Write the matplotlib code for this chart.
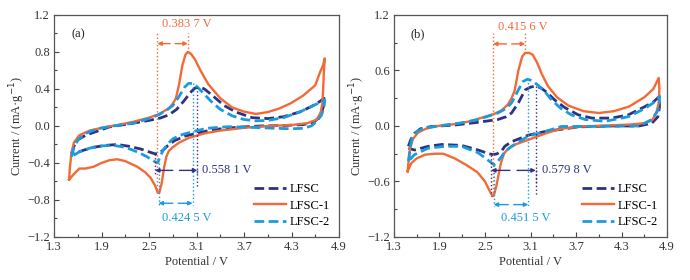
import numpy as np
import matplotlib.pyplot as plt

plt.rcParams['font.family'] = ['Liberation Serif', 'DejaVu Serif']
plt.rcParams['font.size'] = 9

# ---- panel (a) data ----
a_lfsc_v = [1.52, 1.55, 1.60, 1.70, 1.80, 2.00, 2.30, 2.50, 2.64, 2.75, 2.85, 2.95, 3.02, 3.08,
            3.14, 3.20, 3.30, 3.45, 3.60, 3.80, 4.00, 4.20, 4.40, 4.55, 4.65, 4.71,
            4.70, 4.66, 4.58, 4.45, 4.20, 3.90, 3.60, 3.30, 3.10, 2.95, 2.82, 2.74, 2.68, 2.62,
            2.57, 2.50, 2.40, 2.25, 2.10, 1.95, 1.80, 1.68, 1.58, 1.52]
a_lfsc_i = [-0.30, -0.22, -0.15, -0.10, -0.07, -0.01, 0.03, 0.06, 0.085, 0.12, 0.18, 0.28, 0.36, 0.41,
            0.42, 0.40, 0.33, 0.22, 0.15, 0.09, 0.08, 0.10, 0.15, 0.21, 0.26, 0.30,
            0.20, 0.10, 0.04, 0.015, 0.005, 0.0, -0.015, -0.04, -0.08, -0.11, -0.16, -0.21, -0.26, -0.30,
            -0.30, -0.28, -0.25, -0.22, -0.20, -0.21, -0.23, -0.26, -0.29, -0.30]

a_lfsc1_v = [1.49, 1.50, 1.52, 1.55, 1.62, 1.75, 1.90, 2.10, 2.30, 2.50, 2.62, 2.75, 2.80, 2.84,
             2.88, 2.92, 2.96, 2.99, 3.03, 3.08, 3.15, 3.25, 3.40, 3.55, 3.70, 3.85, 4.00, 4.15,
             4.30, 4.45, 4.60, 4.66, 4.70, 4.72,
             4.71, 4.70, 4.69, 4.67, 4.62, 4.50, 4.30, 4.00, 3.70, 3.40, 3.20, 3.00, 2.88, 2.80,
             2.75, 2.72, 2.69, 2.66, 2.63, 2.61, 2.58, 2.52, 2.45, 2.35, 2.20, 2.10, 2.00, 1.90,
             1.80, 1.70, 1.62, 1.55, 1.49]
a_lfsc1_i = [-0.58, -0.45, -0.30, -0.18, -0.10, -0.05, -0.02, 0.01, 0.045, 0.09, 0.125, 0.19, 0.24, 0.30,
             0.45, 0.65, 0.77, 0.80, 0.78, 0.72, 0.60, 0.45, 0.30, 0.20, 0.155, 0.13, 0.15, 0.19,
             0.25, 0.33, 0.44, 0.58, 0.66, 0.73,
             0.60, 0.40, 0.25, 0.15, 0.07, 0.03, 0.01, 0.0, -0.02, -0.05, -0.08, -0.13, -0.18, -0.23,
             -0.27, -0.33, -0.45, -0.62, -0.72, -0.72, -0.65, -0.56, -0.50, -0.44, -0.38, -0.36, -0.37, -0.40,
             -0.44, -0.46, -0.46, -0.52, -0.58]

a_lfsc2_v = [1.52, 1.55, 1.60, 1.70, 1.85, 2.05, 2.30, 2.50, 2.62, 2.72, 2.80, 2.88, 2.95, 3.00,
             3.05, 3.10, 3.18, 3.28, 3.40, 3.55, 3.70, 3.85, 4.00, 4.20, 4.40, 4.55, 4.65, 4.72,
             4.71, 4.68, 4.62, 4.55, 4.45, 4.30, 4.10, 3.80, 3.50, 3.23, 3.06, 2.89, 2.80, 2.74,
             2.68, 2.64, 2.61, 2.56, 2.47, 2.35, 2.20, 2.05, 1.90, 1.75, 1.62, 1.52]
a_lfsc2_i = [-0.33, -0.24, -0.15, -0.08, -0.03, 0.0, 0.03, 0.08, 0.12, 0.17, 0.22, 0.32, 0.42, 0.46,
             0.46, 0.43, 0.36, 0.27, 0.18, 0.11, 0.07, 0.055, 0.06, 0.09, 0.15, 0.21, 0.25, 0.28,
             0.20, 0.12, 0.05, 0.0, -0.025, -0.03, -0.025, -0.015, -0.008, -0.025, -0.06, -0.10, -0.14, -0.19,
             -0.26, -0.33, -0.40, -0.38, -0.33, -0.28, -0.23, -0.21, -0.215, -0.24, -0.28, -0.33]

# ---- panel (b) data ----
b_lfsc_v = [1.49, 1.52, 1.57, 1.65, 1.79, 2.10, 2.41, 2.67, 2.78, 2.85, 2.94, 3.03, 3.10, 3.17,
            3.24, 3.32, 3.42, 3.55, 3.73, 3.91, 4.17, 4.39, 4.61, 4.72, 4.80,
            4.80, 4.78, 4.70, 4.53, 4.17, 3.73, 3.29, 3.07, 2.85, 2.76, 2.72, 2.66, 2.61, 2.55,
            2.41, 2.19, 1.93, 1.75, 1.57, 1.49]
b_lfsc_i = [-0.22, -0.15, -0.08, -0.03, -0.006, 0.01, 0.04, 0.07, 0.10, 0.14, 0.25, 0.39, 0.42, 0.43,
            0.41, 0.36, 0.28, 0.20, 0.12, 0.085, 0.085, 0.12, 0.21, 0.26, 0.32,
            0.20, 0.10, 0.03, 0.0, 0.0, -0.01, -0.06, -0.10, -0.17, -0.22, -0.27, -0.30, -0.31, -0.30,
            -0.26, -0.21, -0.20, -0.22, -0.26, -0.24]

b_lfsc1_v = [1.48, 1.49, 1.51, 1.55, 1.62, 1.72, 1.88, 2.10, 2.30, 2.50, 2.62, 2.72, 2.80, 2.85,
             2.89, 2.94, 2.99, 3.03, 3.08, 3.13, 3.19, 3.25, 3.33, 3.45, 3.60, 3.80, 4.00, 4.20,
             4.40, 4.60, 4.72, 4.79,
             4.80, 4.79, 4.76, 4.70, 4.60, 4.40, 4.10, 3.80, 3.50, 3.30, 3.07, 2.90, 2.80, 2.75,
             2.71, 2.68, 2.65, 2.62, 2.60, 2.56, 2.50, 2.40, 2.25, 2.10, 1.95, 1.84, 1.71, 1.60,
             1.53, 1.48]
b_lfsc1_i = [-0.49, -0.40, -0.25, -0.14, -0.07, -0.03, 0.0, 0.02, 0.05, 0.10, 0.13, 0.17, 0.23, 0.30,
             0.38, 0.60, 0.75, 0.79, 0.79, 0.77, 0.68, 0.56, 0.43, 0.31, 0.22, 0.16, 0.14, 0.16,
             0.21, 0.31, 0.40, 0.52,
             0.40, 0.25, 0.14, 0.06, 0.03, 0.015, 0.005, -0.005, -0.03, -0.08, -0.15, -0.20, -0.25, -0.30,
             -0.40, -0.52, -0.65, -0.74, -0.76, -0.70, -0.60, -0.50, -0.42, -0.35, -0.30, -0.30, -0.31, -0.35,
             -0.40, -0.49]

b_lfsc2_v = [1.49, 1.53, 1.60, 1.71, 1.97, 2.20, 2.41, 2.67, 2.78, 2.85, 2.94, 3.00, 3.06, 3.12,
             3.20, 3.30, 3.38, 3.50, 3.64, 3.82, 4.08, 4.39, 4.61, 4.72, 4.80,
             4.80, 4.78, 4.70, 4.53, 3.95, 3.51, 3.29, 3.07, 2.85, 2.76, 2.72, 2.67, 2.62, 2.54,
             2.41, 2.19, 1.97, 1.75, 1.57, 1.49]
b_lfsc2_i = [-0.38, -0.15, -0.06, -0.02, 0.01, 0.035, 0.07, 0.14, 0.19, 0.25, 0.39, 0.48, 0.505, 0.49,
             0.44, 0.36, 0.28, 0.19, 0.12, 0.07, 0.05, 0.10, 0.19, 0.25, 0.32,
             0.25, 0.17, 0.07, 0.0, -0.005, -0.005, -0.06, -0.11, -0.22, -0.28, -0.33, -0.38, -0.42, -0.37,
             -0.29, -0.22, -0.22, -0.24, -0.31, -0.38]

names = ['LFSC', 'LFSC-1', 'LFSC-2']
colors = ['#2d3282', '#f26a36', '#1c9bdc']

# peak potentials (V) / currents used for the separation markers, order LFSC, LFSC-1, LFSC-2
a_ox_v = [3.11, 2.99, 3.05]
a_ox_i = [0.42, 0.80, 0.46]
a_red_v = [2.575, 2.605, 2.62]
a_red_i = [-0.30, -0.72, -0.40]
a_gap = ['0.558 1 V', '0.383 7 V', '0.424 5 V']

b_ox_v = [3.17, 3.03, 3.07]
b_ox_i = [0.43, 0.79, 0.51]
b_red_v = [2.58, 2.605, 2.615]
b_red_i = [-0.31, -0.76, -0.42]
b_gap = ['0.579 8 V', '0.415 6 V', '0.451 5 V']


def gap_marks(ax, ox_v, ox_i, red_v, red_i, gap, lims):
    # lims: per series (line end, arrow y, text x, text y)
    for k in range(3):
        c = colors[k]
        lo, arr_y, tx, ty = lims[k]
        ax.plot([red_v[k]] * 2, [red_i[k], lo], ':', color=c, lw=1)
        ax.plot([ox_v[k]] * 2, [ox_i[k], lo], ':', color=c, lw=1)
        w = ox_v[k] - red_v[k]
        ap = dict(arrowstyle='-|>', color=c, lw=1, mutation_scale=6, shrinkA=0, shrinkB=0)
        ax.annotate('', xy=(red_v[k], arr_y), xytext=(red_v[k] + 0.42 * w, arr_y), arrowprops=ap)
        ax.annotate('', xy=(ox_v[k], arr_y), xytext=(ox_v[k] - 0.42 * w, arr_y), arrowprops=ap)
        ax.text(tx, ty, gap[k], color=c, fontsize=9, ha='left', va='center')


fig = plt.figure(figsize=(6.9, 2.8), dpi=100)
ax1 = fig.add_axes([0.0783, 0.1536, 0.413, 0.793])
ax2 = fig.add_axes([0.571, 0.1536, 0.3957, 0.793])

styles = [dict(ls=(0, (3.5, 1.6)), lw=2.0), dict(ls='-', lw=1.7), dict(ls=(0, (3.5, 1.6)), lw=2.0)]

for k, (v, i) in enumerate([(a_lfsc_v, a_lfsc_i), (a_lfsc1_v, a_lfsc1_i), (a_lfsc2_v, a_lfsc2_i)]):
    ax1.plot(v, i, color=colors[k], label=names[k], **styles[k])
for k, (v, i) in enumerate([(b_lfsc_v, b_lfsc_i), (b_lfsc1_v, b_lfsc1_i), (b_lfsc2_v, b_lfsc2_i)]):
    ax2.plot(v, i, color=colors[k], label=names[k], **styles[k])

gap_marks(ax1, a_ox_v, a_ox_i, a_red_v, a_red_i, a_gap,
          [(-0.52, -0.48, 3.17, -0.48), (1.0, 0.89, 2.67, 1.10), (-0.85, -0.835, 2.66, -1.0)])
gap_marks(ax2, b_ox_v, b_ox_i, b_red_v, b_red_i, b_gap,
          [(-0.76, -0.48, 3.25, -0.48), (1.0, 0.887, 2.67, 1.07), (-0.87, -0.85, 2.71, -1.0)])
# LFSC right line runs further down than the arrow
ax1.plot([a_ox_v[0]] * 2, [-0.48, -0.67], ':', color=colors[0], lw=1)
ax2.plot([b_ox_v[0]] * 2, [-0.48, -0.64], ':', color=colors[0], lw=1)

for ax, yt, tag in [(ax1, [-1.2, -0.8, -0.4, 0.0, 0.4, 0.8, 1.2], '(a)'),
                    (ax2, [-1.2, -0.6, 0.0, 0.6, 1.2], '(b)')]:
    ax.set_xlim(1.3, 4.9)
    ax.set_ylim(-1.2, 1.2)
    ax.set_xticks([1.3, 1.9, 2.5, 3.1, 3.7, 4.3, 4.9])
    ax.set_xticks(np.arange(1.6, 4.9, 0.6), minor=True)
    ax.set_yticks(yt)
    ax.set_yticks(np.array(yt[:-1]) + (yt[1] - yt[0]) / 2, minor=True)
    ax.set_yticklabels(['%.1f' % t if t >= 0 else '\u2212%.1f' % -t for t in yt])
    ax.tick_params(which='major', direction='in', length=3.5, width=0.8, colors='#444', labelcolor='#333', pad=3)
    ax.tick_params(which='minor', direction='in', length=2, width=0.8, colors='#444')
    for s in ax.spines.values():
        s.set_color('#555')
        s.set_linewidth(0.9)
    ax.set_xlabel('Potential / V', color='#333', labelpad=2)
    ax.set_ylabel('Current / (mA\u00b7g$^{-1}$)', color='#333', labelpad=0)
    ax.text(0.06, 0.9, tag, transform=ax.transAxes, fontsize=9, color='#222')
    ax.legend(loc='lower right', frameon=False, fontsize=9, handlelength=2.6,
              handletextpad=0.3, labelspacing=0.35, borderaxespad=0.3)

fig.savefig('out.png', dpi=100)
